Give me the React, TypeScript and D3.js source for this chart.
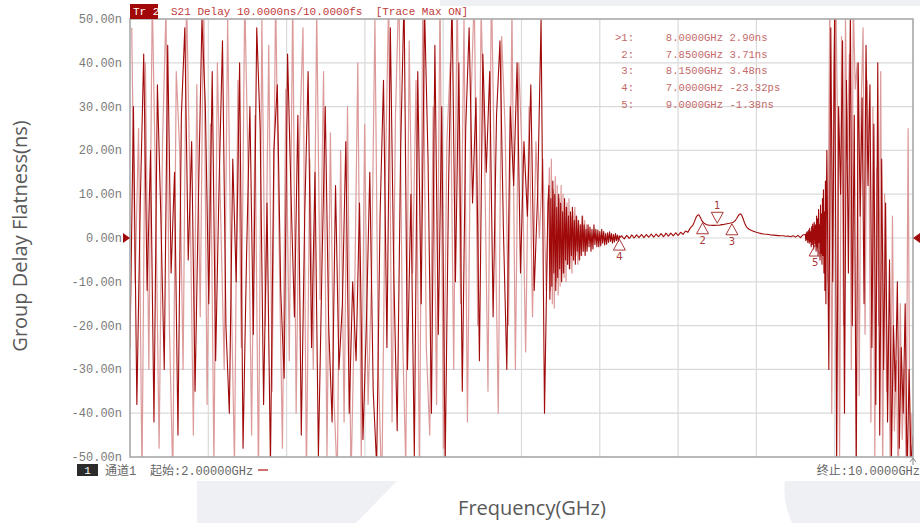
import React from "react";
import * as d3 from "d3";

// sweep settings (GHz)
const fStart = 2.0;
const fStop = 10.0;
const yTicks = [50, 40, 30, 20, 10, 0, -10, -20, -30, -40, -50];

// wild region 2.00 - 6.27 GHz, dark trace, step 0.035
const wildDark = [
  -25, 30, -38, 8, 42, -12, 20, -42, 35, 5, -30, 44, -8, 15, -45,
  28, 48, -5, 22, -35, 10, 50, 30, -15, 38, -28, 12, 45, -20, -40,
  18, -10, 40, -48, -5, 30, -22, 48, 25, -38, 8, -52, 20, 35, -12,
  -32, 42, 10, -18, 28, -45, 5, 38, -25, 15, -50, -8, 30, -20, -42,
  12, -30, -15, 22, -40, -10, -28, 8, -46, -20, 15, -35, -52, 5, 36,
  -25, 48, -8, -44, 20, 55, -30, 10, -50, 38, -15, 52, 18, -40, 44,
  -22, 30, -52, 12, 55, -10, 40, -35, 25, 48, 8, 32, -28, 42, 15,
  38, -18, 28, 45, 2, -30, 30, 12, 40, -8, 22, 5, 35, -12, 10,
  50, -40, 8,
];
// same region, max-hold trace (light), offset half a step
const wildLight = [
  48, -10, 25, -55, 40, -30, 55, 10, -48, 22, 52, -20, -55, 38, 20,
  -30, 56, 12, -45, 35, -18, 58, -38, 26, -52, 40, 4, -30, 50, -10,
  -52, 36, -25, 55, 15, -45, 28, -55, 50, -20, 44, -35, 56, 0, -48,
  34, -28, 55, -40, 22, 48, -55, 18, -30, 52, -14, 38, -50, 24, -36,
  -55, 20, -42, 30, -56, -18, 40, -50, 26, -38, -10, 50, -30, -58, 12,
  55, -42, 28, 58, -20, -52, 45, -8, 36, -55, 58, -25, -45, 30, -38,
  56, -48, 22, 40, -30, 58, -15, 50, -42, 30, 56, -20, 52, 20, -35,
  58, 10, -40, 46, 25, -20, 52, -30, 40, 18, -26, 30, -18, 22, 0,
  18, -12,
];

// decaying ringing 6.27 - 6.99 GHz, step 0.01
const decayDark = [
  12, -14, 9, -11, 13, -8, 10, -12, 7, -9,
  10, -7, 8, -10, 6, -8, 9, -5, 7, -6,
  5, -7, 6, -4, 7, -5, 4, -6, 5, -3,
  4, -5, 3, -4, 5, -3, 3, -4, 2, -3,
  3, -2, 2.5, -3, 2, -2.5, 3, -1.5, 2, -2,
  1.8, -2, 1.5, -1.8, 2, -1.2, 1.5, -1.6, 1, -1.4,
  1.2, -1, 1.4, -0.8, 1, -1.2, 0.8, -0.9, 1, -0.6, 0.7, -0.8, 0.5,
];
const decayLight = [
  16, -12, 18, -15, 11, -16, 14, -10, 12, -13, 9, -11, 12, -8, 10, -9, 7, -10, 8, -6,
  9, -7, 5, -8, 6, -5, 7, -4, 5, -6, 4, -5, 3, -4, 5, -3, 4, -3, 3, -2,
];

// flat passband 7.00 - 8.2875 GHz, step 0.0125
const passband = [
  -0.02, 0.3, 0.5, 0.1, -0.2, 0.2, 0.6, 0.3, -0.1, 0.2, 0.7, 0.4, 0.0, 0.3, 0.7, 0.4,
  0.1, 0.4, 0.8, 0.5, 0.1, 0.4, 0.8, 0.5, 0.2, 0.5, 0.9, 0.6, 0.2, 0.5, 0.9, 0.6,
  0.3, 0.6, 1.0, 0.7, 0.3, 0.6, 1.1, 0.8, 0.4, 0.7, 1.1, 0.8, 0.5, 0.8, 1.2, 0.9,
  0.6, 0.9, 1.3, 1.1, 0.8, 1.2, 1.6, 1.5, 1.3, 1.8, 2.3, 2.6, 2.9, 3.5, 4.2, 4.9,
  5.2, 5.3, 4.8, 4.2, 3.71, 3.45, 3.25, 3.1, 3.0, 2.95, 2.92, 2.9, 2.88, 2.88, 2.89, 2.9,
  2.9, 2.92, 2.95, 3.0, 3.05, 3.1, 3.15, 3.2, 3.25, 3.3, 3.35, 3.42, 3.48, 3.6, 3.8, 4.1,
  4.5, 5.0, 5.4, 5.5, 5.2, 4.5, 3.7, 3.0,
];
// tail 8.30 - 8.875 GHz, step 0.025
const tail = [
  2.5, 2.0, 1.7, 1.5, 1.3, 1.15, 1.0, 0.9, 0.85, 0.8, 0.7, 0.65,
  0.6, 0.55, 0.5, 0.5, 0.4, 0.45, 0.3, 0.5, 0.2, 0.6, 0.1, 0.7,
];
// growing noise 8.90 - 9.115 GHz, step 0.005
const rise = [
  0.8, -0.6, 1.2, -0.4, 1.5, -1.0, 0.5, 1.8, -1.2, 2.2, -0.8, 1.4, -2.0, 2.6, -1.5, 3.2,
  0.2, -2.5, 3.6, 2.0, -1.38, 3.0, -3.0, 5.0, -2.2, 4.4, -4.0, 6.5, -1.0, 3.0, -5.0, 7.5,
  -3.5, 5.5, -6.0, 9.0, -4.0, 11.0, -8.0, 6.0, -12.0, 13.0, -15.0, 10.0,
];
// wild region 9.12 - 10.00 GHz, step 0.02
const endDark = [
  20, -30, 48, -10, 55, -52, 30, 10, 45, -40, 36, -8, 52, -20, 28, -55, 40, 5, 32, -15,
  44, 12, 35, -25, 26, -38, 40, -45, 18, -30, 8, -42, -5, -50, -20, -35, -10, -48, -25, -40,
  -15, -55, -30, -52, -45,
];
const endLight = [
  -10, 56, -40, 38, 58, 24, -50, 46, -20, 50, 18, 42, -30, 54, 34, 40, -36, 30, 48, -22,
  36, 20, -42, 30, -50, 16, -20, 38, -54, 10, -35, -20, -56, 5, -44, -28, -58, -15, -46, -30,
  -52, 25, -56, -40,
];

// markers
const markerFreq = [8.0, 7.85, 8.15, 7.0, 9.0];
const markerVal = [2.9, 3.71, 3.48, -0.023, -1.38];
const markerText = [
  ">1:     8.0000GHz 2.90ns",
  " 2:     7.8500GHz 3.71ns",
  " 3:     8.1500GHz 3.48ns",
  " 4:     7.0000GHz -23.32ps",
  " 5:     9.0000GHz -1.38ns",
];

type Pt = [number, number];
const seg = (vals: number[], start: number, step: number): Pt[] =>
  vals.map((v, i) => [start + i * step, v] as Pt);

const darkPts: Pt[] = [
  ...seg(wildDark, 2.0, 0.035),
  ...seg(decayDark, 6.28, 0.01),
  ...seg(passband, 7.0, 0.0125),
  ...seg(tail, 8.3, 0.025),
  ...seg(rise, 8.9, 0.005),
  ...seg(endDark, 9.12, 0.02),
];
const lightPts: Pt[] = [
  ...seg(wildLight, 2.0175, 0.035),
  ...seg(decayLight, 6.285, 0.01),
];
const lightEndPts: Pt[] = seg(endLight, 9.13, 0.02);

export default function App() {
  const W = 920, H = 523;
  const left = 130, right = 913, top = 19, bottom = 457;
  const x = d3.scaleLinear().domain([fStart, fStop]).range([left, right]);
  const y = d3.scaleLinear().domain([-50, 50]).range([bottom, top]);
  const line = d3.line<Pt>().x((d) => x(d[0])).y((d) => y(d[1]));
  const vGrid = d3.range(1, 10).map((i) => fStart + (i * (fStop - fStart)) / 10);
  const mono = "'Liberation Mono', 'Noto Sans CJK SC', monospace";
  const trace = "#a00a0a";
  const traceLight = "#dc9a9a";
  const y0 = y(0);

  return (
    <div style={{ position: "absolute", left: 0, top: 0 }}>
      <svg width={W} height={H} style={{ display: "block", background: "#fff" }}>
        <defs>
          <clipPath id="plot">
            <rect x={left} y={top} width={right - left} height={bottom - top} />
          </clipPath>
        </defs>
        {/* faint watermark shapes */}
        <rect x={440} y={0} width={480} height={6} fill="#eef0f4" />
        <path d="M197,481 L397,481 L356,523 L197,523 Z" fill="#eef0f4" />
        <path d="M785,481 L920,481 L920,523 L792,523 Q782,500 785,481 Z" fill="#eef0f4" />

        {/* grid */}
        {yTicks.slice(1, -1).map((t) => (
          <line key={"h" + t} x1={left} x2={right} y1={y(t)} y2={y(t)} stroke="#dadada" strokeWidth={1.2} />
        ))}
        {vGrid.map((f) => (
          <line key={"v" + f} x1={x(f)} x2={x(f)} y1={top} y2={bottom} stroke="#dadada" strokeWidth={1.2} />
        ))}

        {/* traces */}
        <g clipPath="url(#plot)" fill="none" strokeLinejoin="round">
          <path d={line(lightPts)!} stroke={traceLight} strokeWidth={1.2} />
          <path d={line(lightEndPts)!} stroke={traceLight} strokeWidth={1.2} />
          <path d={line(darkPts)!} stroke={trace} strokeWidth={1.1} />
        </g>

        {/* frame */}
        <rect x={left} y={top} width={right - left} height={bottom - top} fill="none" stroke="#a8a8a8" strokeWidth={1.6} />

        {/* y tick labels */}
        {yTicks.map((t) => (
          <text key={"t" + t} x={122} y={y(t) + 4} textAnchor="end" fontFamily={mono} fontSize={12} fill="#7a7a7a">
            {t.toFixed(2) + "n"}
          </text>
        ))}

        {/* reference level arrows */}
        <path d={`M${left - 7},${y0 - 5} L${left},${y0} L${left - 7},${y0 + 5} Z`} fill={trace} />
        <path d={`M${W},${y0 - 5} L${right},${y0} L${W},${y0 + 5} Z`} fill={trace} />

        {/* header */}
        <rect x={left} y={4} width={28} height={15} fill="#a30808" />
        <text x={133} y={15} fontFamily={mono} fontSize={11} fill="#fff" style={{ whiteSpace: "pre" }}>Tr 2</text>
        <text x={171} y={15} fontFamily={mono} fontSize={11} fill="#c03a3a" style={{ whiteSpace: "pre" }}>
          {"S21 Delay 10.0000ns/10.0000fs  [Trace Max ON]"}
        </text>

        {/* marker table */}
        {markerText.map((s, i) => (
          <text key={"m" + i} x={615} y={41 + i * 16.7} fontFamily={mono} fontSize={10.6} fill="#c46a6a" style={{ whiteSpace: "pre" }}>
            {s}
          </text>
        ))}

        {/* marker symbols */}
        {markerFreq.map((f, i) => {
          const mx = x(f);
          const my = y(markerVal[i]);
          const down = i === 0;
          const tri = down
            ? `M${mx - 6},${my - 13} L${mx + 6},${my - 13} L${mx},${my - 2} Z`
            : `M${mx},${my + 1} L${mx + 6},${my + 12} L${mx - 6},${my + 12} Z`;
          return (
            <g key={"mk" + i}>
              <path d={tri} fill="none" stroke="#a83a3a" strokeWidth={1} />
              <text x={mx} y={down ? my - 16 : my + 22} textAnchor="middle" fontFamily="'DejaVu Sans', sans-serif" fontSize={10} fill="#a83a3a">
                {String(i + 1)}
              </text>
            </g>
          );
        })}

        {/* small arrow at stop */}
        <path d={`M${right - 3},${bottom + 5} L${right},${bottom + 1} L${right + 3},${bottom + 5} M${right},${bottom + 1} L${right},${bottom + 8}`} stroke="#888" fill="none" strokeWidth={1} />

        {/* status bar */}
        <rect x={77} y={464} width={21} height={12} fill="#2b2b2b" />
        <text x={87.5} y={474} textAnchor="middle" fontFamily={mono} fontSize={11} fill="#fff">1</text>
        <text x={105} y={475} fontFamily={mono} fontSize={12} fill="#666">通道1</text>
        <text x={150} y={475} fontFamily={mono} fontSize={12} fill="#666">起始:2.00000GHz</text>
        <line x1={258} x2={268} y1={470} y2={470} stroke="#c04040" strokeWidth={1.5} />
        <text x={920} y={475} textAnchor="end" fontFamily={mono} fontSize={12} fill="#666">终止:10.0000GHz</text>

        {/* axis titles */}
        <text transform="translate(27,236) rotate(-90)" textAnchor="middle" fontFamily="'Open Sans', sans-serif" fontSize={20} fill="#595959">
          Group Delay Flatness(ns)
        </text>
        <text x={532} y={515} textAnchor="middle" fontFamily="'Open Sans', sans-serif" fontSize={20} fill="#595959">
          Frequency(GHz)
        </text>
      </svg>
    </div>
  );
}
